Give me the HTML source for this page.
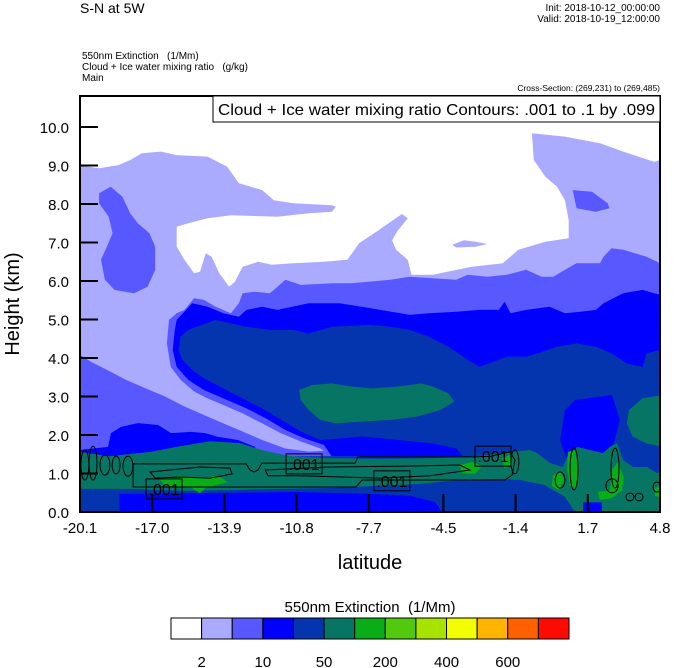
<!DOCTYPE html>
<html><head><meta charset="utf-8"><style>
html,body{margin:0;padding:0;background:#fff;}
svg{display:block;font-family:"Liberation Sans",Arial,sans-serif;}
text{white-space:pre;}
</style></head><body>
<svg id="chart" width="674" height="668" viewBox="0 0 674 668" xmlns="http://www.w3.org/2000/svg">
<defs><clipPath id="plotclip"><rect x="80" y="96" width="580" height="416"/></clipPath></defs>
<text x="80" y="13" font-size="14">S-N at 5W</text>
<text x="660" y="11" font-size="10" text-anchor="end">Init: 2018-10-12_00:00:00</text>
<text x="660" y="22" font-size="10" text-anchor="end">Valid: 2018-10-19_12:00:00</text>
<text x="82" y="59" font-size="10">550nm Extinction   (1/Mm)</text>
<text x="82" y="70" font-size="10">Cloud + Ice water mixing ratio   (g/kg)</text>
<text x="82" y="81" font-size="10">Main</text>
<text x="660" y="91" font-size="8.5" text-anchor="end">Cross-Section: (269,231) to (269,485)</text>
<g id="field" clip-path="url(#plotclip)"></g>
<g id="contours" clip-path="url(#plotclip)"></g>
<rect x="80" y="96" width="580" height="416" fill="none" stroke="#000" stroke-width="2"/>
<g>
<rect x="213" y="96" width="447" height="26" fill="#fff" stroke="#000" stroke-width="1"/>
<text x="218" y="115" font-size="16" textLength="437" lengthAdjust="spacingAndGlyphs">Cloud + Ice water mixing ratio Contours: .001 to .1 by .099</text>
</g>
<g id="axes"></g>
<text x="0" y="0" font-size="20" text-anchor="middle" transform="translate(19,304) rotate(-90)">Height (km)</text>
<text x="370" y="569" font-size="20" text-anchor="middle">latitude</text>
<text x="370" y="612" font-size="15" text-anchor="middle">550nm Extinction  (1/Mm)</text>
<g id="colorbar"></g>
</svg>
<script>
const xTicks = ["-20.1","-17.0","-13.9","-10.8","-7.7","-4.5","-1.4","1.7","4.8"];
const xTickVals = [-20.1,-17.0,-13.9,-10.8,-7.7,-4.5,-1.4,1.7,4.8];
const yTickVals = [0,1,2,3,4,5,6,7,8,9,10];
const cbColors = ["#ffffff","#aaaaff","#5858ff","#0000ff","#0434ae","#067563","#08ad18","#52c90e","#a6e300","#f3ff00","#ffb400","#ff6000","#ff0a00"];
const cbLabels = ["2","10","50","200","400","600"];
const cbLabelIdx = [1,3,5,7,9,11];

const C = {w:"#ffffff",l:"#aaaaff",m:"#5858ff",b:"#0000ff",d:"#0434ae",t:"#067563",g:"#08ad18"};
const bgPoly = [[-20.1,0],[-20.1,11],[4.8,11],[4.8,0]];
const whitePoly = [[-20.1,11],[4.8,11],[4.8,9.14],[4.55,9.10],[3.22,9.36],[2.22,9.58],[0.72,9.75],[-0.70,9.84],[-0.62,9.14],[-0.12,8.71],[0.38,8.45],[0.72,8.10],[0.88,7.58],[0.88,7.11],[-0.12,7.02],[-1.28,6.81],[-1.95,6.46],[-3.28,6.37],[-4.95,6.16],[-5.87,6.16],[-6.03,6.55],[-6.53,6.81],[-6.70,7.06],[-6.45,7.32],[-6.03,7.63],[-6.28,7.74],[-7.28,7.32],[-8.12,6.98],[-8.62,6.55],[-9.62,6.50],[-10.95,6.46],[-11.87,6.42],[-12.45,6.50],[-13.12,6.37],[-13.45,5.98],[-13.70,5.85],[-14.12,6.20],[-14.45,6.63],[-14.70,6.72],[-14.95,6.24],[-15.20,6.20],[-15.62,6.55],[-15.95,6.89],[-15.95,7.41],[-15.45,7.50],[-14.62,7.63],[-13.62,7.71],[-11.62,7.67],[-10.28,7.76],[-9.28,7.80],[-9.12,7.93],[-9.28,7.97],[-10.95,8.02],[-11.78,8.10],[-12.28,8.36],[-13.28,8.54],[-13.78,8.97],[-14.62,9.23],[-15.95,9.27],[-16.62,9.36],[-17.45,9.32],[-17.95,9.14],[-18.45,9.01],[-19.28,8.93],[-20.1,9.0]];
const lavBlob = [[-4.12,6.94],[-3.62,7.06],[-3.12,7.02],[-2.62,6.96],[-3.12,6.89],[-3.95,6.87]];
const medLeftBlob = [[-19.28,8.28],[-18.78,8.45],[-18.28,8.19],[-17.95,7.76],[-17.62,7.50],[-17.12,7.24],[-16.87,6.89],[-16.87,6.29],[-17.20,5.85],[-17.78,5.68],[-18.62,5.77],[-19.03,6.03],[-19.20,6.55],[-18.95,6.89],[-18.70,7.24],[-18.87,7.67],[-19.28,8.02]];
const medRightBlob = [[1.05,8.36],[1.88,8.32],[2.55,8.02],[2.63,7.89],[2.05,7.80],[1.22,7.89]];
const medMain = [[4.8,6.46],[4.22,6.63],[3.22,6.81],[2.72,6.85],[2.38,6.63],[2.22,6.46],[1.22,6.46],[0.72,6.29],[0.22,6.11],[-0.28,6.11],[-0.95,6.29],[-1.78,6.16],[-2.62,6.11],[-3.45,6.16],[-3.95,6.03],[-5.95,6.11],[-6.78,6.03],[-8.45,5.94],[-9.28,5.94],[-10.62,5.90],[-11.28,6.03],[-11.62,5.85],[-11.95,5.68],[-12.62,5.72],[-13.12,5.68],[-13.28,5.42],[-13.62,5.16],[-14.28,5.33],[-14.78,5.51],[-15.20,5.55],[-15.62,5.25],[-15.95,5.16],[-16.28,4.99],[-16.37,4.38],[-16.20,3.77],[-15.78,3.43],[-15.20,3.13],[-14.62,2.95],[-13.95,2.78],[-13.12,2.56],[-12.28,2.30],[-11.45,2.04],[-10.62,1.83],[-9.78,1.65],[-9.62,1.59],[-10.28,1.57],[-11.28,1.65],[-12.28,1.87],[-13.12,2.09],[-13.95,2.30],[-14.78,2.52],[-15.62,2.74],[-16.45,3.00],[-17.28,3.21],[-18.12,3.43],[-18.95,3.69],[-19.62,3.90],[-20.1,4.08],[-20.1,0],[4.8,0]];
const blueMain = [[4.8,5.64],[4.05,5.77],[3.22,5.68],[2.38,5.42],[2.05,5.25],[1.38,5.20],[0.72,5.16],[0.05,5.33],[-0.95,5.25],[-1.62,5.16],[-1.87,5.46],[-2.12,5.25],[-2.95,5.25],[-3.95,5.20],[-5.12,5.16],[-5.95,5.12],[-7.62,5.29],[-8.95,5.42],[-10.28,5.42],[-11.62,5.25],[-12.28,5.33],[-12.95,5.25],[-13.28,5.07],[-13.95,5.16],[-14.62,5.33],[-15.28,5.42],[-15.62,5.20],[-15.95,4.99],[-16.03,4.73],[-16.12,4.21],[-15.95,3.77],[-15.45,3.43],[-14.78,3.17],[-13.95,2.95],[-12.95,2.69],[-12.12,2.43],[-11.28,2.13],[-10.45,1.91],[-9.62,1.74],[-9.3,1.45],[4.8,1.45]];
const darkMain = [[4.8,4.21],[4.22,4.12],[4.05,3.77],[3.38,3.86],[2.72,4.12],[2.05,4.29],[1.22,4.38],[0.38,4.29],[-0.45,4.12],[-0.95,4.03],[-1.78,4.03],[-2.95,3.77],[-3.45,3.95],[-4.28,4.29],[-5.12,4.55],[-5.95,4.73],[-6.78,4.81],[-7.62,4.86],[-9.28,4.81],[-10.28,4.64],[-10.95,4.73],[-11.95,4.73],[-12.95,4.81],[-13.62,4.90],[-14.28,4.99],[-15.45,4.73],[-15.78,4.55],[-15.87,4.21],[-15.70,3.95],[-15.28,3.69],[-14.78,3.47],[-13.95,3.21],[-13.12,2.95],[-12.28,2.69],[-11.45,2.39],[-10.62,2.09],[-9.78,1.87],[-8.95,1.91],[-7.95,1.96],[-6.78,1.89],[-4.95,1.78],[-3.95,1.65],[-3.7,1.48],[-3.7,0],[4.8,0]];
const tealCenter = [[-10.7,3.17],[-10.12,3.30],[-9.28,3.34],[-8.45,3.26],[-7.62,3.21],[-6.45,3.26],[-5.45,3.34],[-4.95,3.26],[-4.28,3.08],[-4.03,2.87],[-4.62,2.65],[-5.62,2.48],[-6.78,2.39],[-7.95,2.35],[-9.12,2.30],[-9.78,2.39],[-10.28,2.65],[-10.62,2.91]];
const tealRight = [[4.9,3.04],[4.05,2.95],[3.47,2.65],[3.38,2.30],[3.62,1.96],[4.22,1.78],[4.9,1.70]];
const darkBottom = [[-20.1,1.45],[-3.7,1.45],[-3.7,0],[-20.1,0]];
const blueBottom = [[-18.4,0.47],[-14.95,0.49],[-10.66,0.52],[-7.65,0.47],[-5.93,0.42],[-4.86,0.26],[-4.56,0],[-18.4,0]];
const blueBump = [[-20.1,1.61],[-18.9,1.69],[-18.77,2.05],[-18.34,2.21],[-17.61,2.31],[-16.75,2.26],[-16.19,2.05],[-15.33,2.08],[-14.73,2.05],[-14.18,1.95],[-13.32,1.87],[-12.59,1.69],[-12.33,1.43],[-12.15,1.27],[-12.15,1.1],[-20.1,1.1]];
const bluePocket = [[1.15,2.91],[2.74,3.04],[3.08,2.39],[2.74,1.61],[2.22,1.09],[1.58,0.83],[0.94,1.09],[0.51,1.87],[0.72,2.65]];
const tealBand = [[-20.1,1.56],[-18.81,1.45],[-17.09,1.56],[-15.81,1.71],[-14.52,1.84],[-13.23,1.79],[-12.29,1.61],[-11.08,1.45],[-9.37,1.40],[-7.22,1.38],[-5.07,1.40],[-3.36,1.43],[-2.07,1.53],[-0.78,1.61],[-0.48,1.53],[0.08,1.27],[0.64,1.17],[0.81,1.43],[1.24,1.69],[1.79,1.61],[2.35,1.53],[2.65,1.69],[2.95,1.79],[3.21,1.35],[3.64,1.17],[4.24,1.17],[4.67,1.01],[4.9,1.09],[4.9,0],[1.15,0],[0.72,0.39],[-0.14,0.70],[-1.21,0.83],[-2.07,0.86],[-3.79,0.83],[-5.50,0.73],[-7.22,0.68],[-9.37,0.62],[-11.51,0.60],[-13.66,0.57],[-15.81,0.55],[-17.95,0.60],[-20.1,0.60]];
const blueBotPocket = [[1.5,0],[1.5,0.25],[2.3,0.25],[2.3,0]];
const greenSpots = [
 [[-16.67,0.83],[-15.81,0.94],[-14.95,0.88],[-14.18,0.94],[-13.75,0.78],[-14.73,0.62],[-14.95,0.49],[-15.38,0.65],[-16.45,0.68]],
 [[-3.79,1.22],[-3.27,1.30],[-2.84,1.19],[-3.14,0.99],[-3.70,1.01]],
 [[-1.98,1.40],[-1.64,1.48],[-1.55,1.22],[-1.89,1.14]],
 [[0.85,1.56],[1.15,1.61],[1.28,1.09],[1.19,0.62],[0.94,0.68],[0.81,1.09]],
 [[0.21,0.96],[0.51,1.04],[0.72,0.83],[0.42,0.57],[0.16,0.68]],
 [[2.74,1.09],[3.0,1.30],[3.25,0.88],[3.17,0.57],[2.74,0.36],[2.22,0.31],[2.13,0.52],[2.65,0.57]],
 [[4.58,0.62],[4.9,0.70],[4.9,0.36],[4.58,0.42]]
];
const contourOuter = [[-17.82,1.25],[-12.97,1.25],[-12.80,1.09],[-12.63,1.04],[-12.46,1.09],[-12.29,1.27],[-8.29,1.27],[-8.17,1.43],[-3.06,1.43],[-2.50,1.45],[-1.64,1.56],[-1.43,1.35],[-1.55,0.96],[-1.86,0.83],[-2.50,0.83],[-7.99,0.83],[-8.25,0.65],[-17.82,0.65]];
const contourInnerA = [[-17.09,1.04],[-16.24,1.09],[-14.95,1.17],[-13.66,1.14],[-13.57,0.99],[-14.52,0.88],[-15.81,0.91],[-16.88,0.88]];
const contourInnerB = [[-12.15,1.09],[-9.37,1.17],[-6.36,1.19],[-3.79,1.22],[-3.36,1.09],[-5.07,0.94],[-7.22,0.88],[-10.66,0.94],[-12.03,0.94]];
const ellLat = [-19.89,-19.54,-19.03,-18.55,-18.04,1.11,0.51,2.87,2.74,3.51,3.90,4.67,-1.43];
const ellH   = [1.22,1.27,1.22,1.22,1.19,1.12,0.83,1.14,0.68,0.39,0.39,0.65,1.30];
const ellRx  = [0.17,0.17,0.21,0.17,0.21,0.17,0.21,0.17,0.26,0.17,0.17,0.17,0.17];
const ellRy  = [0.39,0.44,0.26,0.23,0.26,0.55,0.21,0.52,0.18,0.10,0.10,0.13,0.31];
const lblLat = [-16.49,-10.48,-6.71,-2.37];
const lblH = [0.60,1.25,0.81,1.45];
const lblText = [".001",".001",".001",".001"];

const NS = "http://www.w3.org/2000/svg";
const X = lat => 80 + (lat + 20.1) / 24.9 * 580;
const Y = h => 512 - h * 38.5;
const field = document.getElementById('field');
const cont = document.getElementById('contours');
const axes = document.getElementById('axes');
function mk(tag, parent){ const e = document.createElementNS(NS, tag); parent.appendChild(e); return e; }
function pts(arr){ return arr.map(p => X(p[0]).toFixed(1) + "," + Y(p[1]).toFixed(1)).join(" "); }
function poly(arr, color, name){
  const e = mk('polygon', field);
  e.setAttribute('points', pts(arr));
  e.setAttribute('fill', color);
  
  
}
poly(bgPoly, C.l, 'region-2-10');
poly(whitePoly, C.w, 'region-below-2');
poly(lavBlob, C.l, 'region-2-10-small');
poly(medLeftBlob, C.m, 'region-10-20-left');
poly(medRightBlob, C.m, 'region-10-20-right');
poly(medMain, C.m, 'region-10-20-main');
poly(blueMain, C.b, 'region-20-50-main');
poly(darkMain, C.d, 'region-50-100-main');
poly(tealCenter, C.t, 'region-100-200-center');
poly(tealRight, C.t, 'region-100-200-right');
poly(darkBottom, C.d, 'region-50-100-bottom');
poly(blueBottom, C.b, 'region-20-50-bottom');
poly(blueBump, C.b, 'region-20-50-left');
poly(bluePocket, C.b, 'region-20-50-pocket');
poly(tealBand, C.t, 'region-100-200-band');
poly(blueBotPocket, C.b, 'region-20-50-bottom-pocket');
greenSpots.forEach(g => poly(g, C.g, 'region-200-300'));

function cline(arr, name){
  const e = mk('polygon', cont);
  e.setAttribute('points', pts(arr));
  e.setAttribute('fill', 'none');
  e.setAttribute('stroke', '#000');
  e.setAttribute('stroke-width', '1');
  
  
}
cline(contourOuter, 'contour-001-outer');
cline(contourInnerA, 'contour-001-inner-a');
cline(contourInnerB, 'contour-001-inner-b');
ellLat.forEach((lat, i) => {
  const e = mk('ellipse', cont);
  e.setAttribute('cx', X(lat)); e.setAttribute('cy', Y(ellH[i]));
  e.setAttribute('rx', ellRx[i] / 24.9 * 580); e.setAttribute('ry', ellRy[i] * 38.5);
  e.setAttribute('fill', 'none'); e.setAttribute('stroke', '#000'); e.setAttribute('stroke-width', '1');
  
  
});
lblLat.forEach((lat, i) => {
  const cx = X(lat), cy = Y(lblH[i]);
  const r = mk('rect', cont);
  r.setAttribute('x', cx - 18); r.setAttribute('y', cy - 10); r.setAttribute('width', 36); r.setAttribute('height', 20);
  r.setAttribute('fill', 'none'); r.setAttribute('stroke', '#000'); r.setAttribute('stroke-width', '1');
  
  
  const t = mk('text', cont);
  t.setAttribute('x', cx); t.setAttribute('y', cy + 6); t.setAttribute('font-size', '16');
  t.setAttribute('text-anchor', 'middle');
  t.textContent = lblText[i];
  
  
});

yTickVals.forEach(v => {
  const l = mk('line', axes);
  l.setAttribute('x1', 80); l.setAttribute('x2', 98); l.setAttribute('y1', Y(v)); l.setAttribute('y2', Y(v));
  l.setAttribute('stroke', '#000'); l.setAttribute('stroke-width', '2');
  
  
  const t = mk('text', axes);
  t.setAttribute('x', 69); t.setAttribute('y', Y(v) + 6); t.setAttribute('font-size', '15'); t.setAttribute('text-anchor', 'end');
  t.textContent = v.toFixed(1);
  
  
});
xTickVals.forEach((v, i) => {
  const l = mk('line', axes);
  l.setAttribute('x1', X(v)); l.setAttribute('x2', X(v)); l.setAttribute('y1', 512); l.setAttribute('y2', 494);
  l.setAttribute('stroke', '#000'); l.setAttribute('stroke-width', '2');
  
  
  const t = mk('text', axes);
  t.setAttribute('x', X(v)); t.setAttribute('y', 533); t.setAttribute('font-size', '15'); t.setAttribute('text-anchor', 'middle');
  t.textContent = xTicks[i];
  
  
});

const cb = document.getElementById('colorbar');
const cbX = 171, cbW = 398 / cbColors.length;
cbColors.forEach((c, i) => {
  const r = mk('rect', cb);
  r.setAttribute('x', cbX + i * cbW); r.setAttribute('y', 618); r.setAttribute('width', cbW); r.setAttribute('height', 21);
  r.setAttribute('fill', c); r.setAttribute('stroke', '#000'); r.setAttribute('stroke-width', '1');
  
  
});
cbLabels.forEach((s, i) => {
  const t = mk('text', cb);
  t.setAttribute('x', cbX + cbLabelIdx[i] * cbW); t.setAttribute('y', 667); t.setAttribute('font-size', '15'); t.setAttribute('text-anchor', 'middle');
  t.textContent = s;
  
  
});
</script>
</body></html>
